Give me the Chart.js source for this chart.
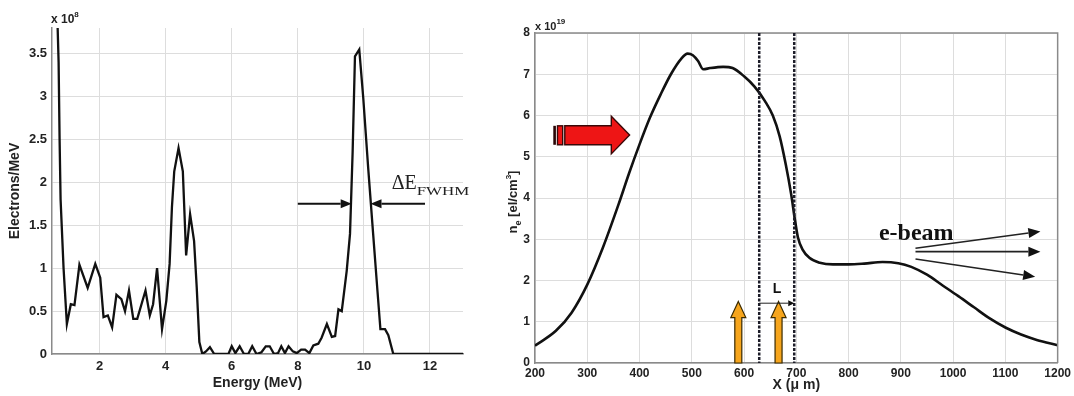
<!DOCTYPE html>
<html>
<head>
<meta charset="utf-8">
<script src="https://cdn.jsdelivr.net/npm/chart.js@4.4.1/dist/chart.umd.min.js"></script>
<style>
  html, body { margin: 0; padding: 0; background: #fff; }
  #wrap { position: relative; width: 1074px; height: 396px; overflow: hidden; }
  #left { position: absolute; left: 0; top: 0; }
  #right { position: absolute; left: 490px; top: 0; }
</style>
</head>
<body>
<div id="wrap">
  <canvas id="left" width="470" height="396"></canvas>
  <canvas id="right" width="584" height="396"></canvas>
</div>
<script>
// ===== left panel: electron spectrum (units of 1e8 electrons/MeV) =====
const energyMeV = [0.72, 0.76, 0.79, 0.82, 0.91, 1.01, 1.13, 1.24, 1.39, 1.64, 1.87, 2.02, 2.12, 2.25, 2.38,
  2.51, 2.66, 2.77, 2.89, 3.02, 3.14, 3.39, 3.52, 3.62, 3.74, 3.89, 4.02, 4.12, 4.19, 4.26, 4.39, 4.52,
  4.62, 4.74, 4.86, 4.94, 5.02, 5.11, 5.22, 5.34, 5.47, 5.90, 6.00, 6.11, 6.24, 6.37, 6.50, 6.62, 6.75,
  6.90, 7.03, 7.15, 7.28, 7.40, 7.50, 7.61, 7.72, 7.85, 7.97, 8.10, 8.22, 8.35, 8.47, 8.62, 8.72, 8.88,
  9.03, 9.13, 9.23, 9.33, 9.48, 9.58, 9.66, 9.73, 9.86, 9.98, 10.13, 10.28, 10.41, 10.50, 10.64, 10.74,
  10.89, 13.0];
const electronsPerMeV = [3.95, 3.40, 2.50, 1.80, 1.00, 0.35, 0.58, 0.57, 1.04, 0.77, 1.05, 0.89, 0.43, 0.45, 0.31,
  0.69, 0.64, 0.50, 0.74, 0.41, 0.41, 0.74, 0.45, 0.58, 1.00, 0.29, 0.62, 1.05, 1.71, 2.13, 2.40, 2.13,
  1.15, 1.63, 1.32, 0.78, 0.14, 0.00, 0.03, 0.08, 0.00, 0.00, 0.09, 0.01, 0.09, 0.00, 0.00, 0.09, 0.00,
  0.02, 0.09, 0.09, 0.00, 0.01, 0.09, 0.01, 0.09, 0.03, 0.01, 0.05, 0.05, 0.01, 0.10, 0.12, 0.19, 0.35,
  0.20, 0.21, 0.52, 0.50, 0.97, 1.40, 2.36, 3.47, 3.55, 2.99, 2.17, 1.40, 0.74, 0.29, 0.29, 0.22,
  0.00, 0.00];
const energyTicks = [2, 4, 6, 8, 10, 12];
const electronTicks = [0, 0.5, 1, 1.5, 2, 2.5, 3, 3.5];
// FWHM markers: [fromE, toE, level]
const fwhmArrows = [[8.0, 9.63, 1.75], [11.85, 10.2, 1.75]];
const fwhmLabel = [10.84, 1.92];

// ===== right panel: density profile (units of 1e19 el/cm^3) =====
const positionUm = [200, 240, 270, 300, 330, 360, 380, 400, 420, 440, 460, 480, 492, 502, 512, 522, 535,
  560, 578, 600, 620, 640, 655, 668, 680, 690, 697, 703, 712, 725, 745, 770, 800, 830, 865, 895, 920,
  950, 980, 1010, 1040, 1070, 1100, 1130, 1160, 1200];
const densityE19 = [0.42, 0.78, 1.22, 1.90, 2.80, 3.85, 4.60, 5.30, 5.95, 6.50, 7.00, 7.38, 7.50, 7.46, 7.32,
  7.12, 7.15, 7.18, 7.15, 6.95, 6.70, 6.35, 6.00, 5.50, 4.80, 4.10, 3.50, 3.05, 2.75, 2.55, 2.43, 2.39,
  2.39, 2.41, 2.45, 2.42, 2.33, 2.14, 1.88, 1.62, 1.35, 1.08, 0.86, 0.69, 0.56, 0.43];
const positionTicks = [200, 300, 400, 500, 600, 700, 800, 900, 1000, 1100, 1200];
const densityTicks = [0, 1, 2, 3, 4, 5, 6, 7, 8];
const markerLines = [629, 696];
const pumpArrows = [589, 666];
const pumpTop = 1.49;
const lengthMark = [629, 696, 1.45];
const lengthLabel = [663, 1.70];
const beamArrows = [[928, 2.78, 1167, 3.19], [928, 2.70, 1167, 2.70], [928, 2.52, 1157, 2.09]];
const beamLabel = [858, 2.99];
// laser block arrow outline [x, y]
const laserArrow = [[257, 5.75], [346, 5.75], [346, 5.98], [381, 5.53], [346, 5.07], [346, 5.29], [257, 5.29]];
const laserStripes = [[235, 240], [243, 253]];
const laserBand = [5.29, 5.75];

// ==================== HELPERS ====================
const SANS = '"Liberation Sans", Arial, sans-serif';
const SERIF = '"Liberation Serif", "Times New Roman", serif';

function richText(ctx, x, y, parts, align) {
  let w = 0;
  parts.forEach(p => { ctx.font = p[1]; w += ctx.measureText(p[0]).width; });
  let cx = align === 'center' ? x - w / 2 : x;
  parts.forEach(p => {
    ctx.font = p[1];
    ctx.fillText(p[0], cx, y + (p[2] || 0));
    cx += ctx.measureText(p[0]).width;
  });
}

function arrow(ctx, x0, y0, x1, y1, headLen, headHalf, width) {
  const a = Math.atan2(y1 - y0, x1 - x0);
  const bx = x1 - headLen * Math.cos(a), by = y1 - headLen * Math.sin(a);
  ctx.lineWidth = width;
  ctx.beginPath(); ctx.moveTo(x0, y0); ctx.lineTo(bx, by); ctx.stroke();
  ctx.beginPath();
  ctx.moveTo(x1, y1);
  ctx.lineTo(bx + headHalf * Math.sin(a), by - headHalf * Math.cos(a));
  ctx.lineTo(bx - headHalf * Math.sin(a), by + headHalf * Math.cos(a));
  ctx.closePath(); ctx.fill();
}

function axisCfg(ticksArr, min, max, fit, font, pad) {
  return {
    type: 'linear', min: min, max: max,
    afterBuildTicks: s => { s.ticks = ticksArr.map(v => ({ value: v })); },
    afterFit: fit,
    grid: { color: '#dddddd', drawTicks: false, lineWidth: 1 },
    border: { color: '#8a8a8a', width: 1.5 },
    ticks: { font: font, color: '#222', padding: pad, maxRotation: 0, autoSkip: false,
      callback: v => String(v) }
  };
}

// ==================== LEFT CHART ====================
const leftNotes = {
  id: 'leftNotes',
  afterDatasetsDraw(chart) {
    const ctx = chart.ctx, sx = chart.scales.x, sy = chart.scales.y;
    ctx.save();
    ctx.fillStyle = '#222'; ctx.strokeStyle = '#111';
    ctx.textBaseline = 'alphabetic'; ctx.textAlign = 'left';
    richText(ctx, chart.chartArea.left - 1, 23, [['x 10', 'bold 12px ' + SANS], ['8', 'bold 8px ' + SANS, -6]]);

    ctx.fillStyle = '#111';
    fwhmArrows.forEach(a => {
      arrow(ctx, sx.getPixelForValue(a[0]), sy.getPixelForValue(a[2]),
        sx.getPixelForValue(a[1]), sy.getPixelForValue(a[2]), 11, 4.5, 2);
    });

    const lx = sx.getPixelForValue(fwhmLabel[0]), ly = sy.getPixelForValue(fwhmLabel[1]);
    ctx.fillStyle = '#222';
    ctx.font = '20px ' + SERIF;
    ctx.fillText('\u0394E', lx, ly);
    const w = ctx.measureText('\u0394E').width;
    ctx.save();
    ctx.translate(lx + w, ly + 6);
    ctx.scale(1.3, 1);
    ctx.font = '13px ' + SERIF;
    ctx.fillText('FWHM', 0, 0);
    ctx.restore();
    ctx.restore();
  }
};

new Chart(document.getElementById('left'), {
  type: 'line',
  data: {
    datasets: [{
      data: energyMeV.map((x, i) => ({ x: x, y: electronsPerMeV[i] })),
      borderColor: '#111', borderWidth: 2.3, pointRadius: 0, tension: 0
    }]
  },
  options: {
    responsive: false, animation: false, devicePixelRatio: 1,
    layout: { padding: { top: 28, right: 7, left: 0, bottom: 0 } },
    plugins: { legend: { display: false }, tooltip: { enabled: false } },
    scales: {
      x: Object.assign(axisCfg(energyTicks, 0.56, 13, s => { s.height = 42; }, { family: SANS, size: 13, weight: 'bold' }, 5), {
        title: { display: true, text: 'Energy (MeV)', color: '#222',
          font: { family: SANS, size: 14, weight: 'bold' }, padding: { top: 0, bottom: 4 } }
      }),
      y: Object.assign(axisCfg(electronTicks, 0, 3.8, s => { s.width = 52; }, { family: SANS, size: 13, weight: 'bold' }, 5), {
        title: { display: true, text: 'Electrons/MeV', color: '#222',
          font: { family: SANS, size: 14, weight: 'bold' }, padding: { top: 7, bottom: 0 } }
      })
    }
  },
  plugins: [leftNotes]
});

// ==================== RIGHT CHART ====================
const rightNotes = {
  id: 'rightNotes',
  afterDatasetsDraw(chart) {
    const ctx = chart.ctx, sx = chart.scales.x, sy = chart.scales.y, area = chart.chartArea;
    const px = v => sx.getPixelForValue(v), py = v => sy.getPixelForValue(v);
    ctx.save();

    // box top / right
    ctx.strokeStyle = '#8a8a8a'; ctx.lineWidth = 1.5;
    ctx.beginPath();
    ctx.moveTo(area.left, area.top); ctx.lineTo(area.right, area.top); ctx.lineTo(area.right, area.bottom);
    ctx.stroke();

    // exponent + y title
    ctx.fillStyle = '#222'; ctx.textAlign = 'left'; ctx.textBaseline = 'alphabetic';
    richText(ctx, area.left, 30, [['x 10', 'bold 11px ' + SANS], ['19', 'bold 8px ' + SANS, -6]]);
    ctx.save();
    ctx.translate(27, (area.top + area.bottom) / 2 + 4);
    ctx.rotate(-Math.PI / 2);
    richText(ctx, 0, 0, [['n', 'bold 13px ' + SANS], ['e', 'bold 9px ' + SANS, 4], [' [el/cm', 'bold 13px ' + SANS],
      ['3', 'bold 8px ' + SANS, -6], [']', 'bold 13px ' + SANS]], 'center');
    ctx.restore();

    // dashed boundaries
    ctx.strokeStyle = '#1c1c28'; ctx.lineWidth = 2.5; ctx.setLineDash([3, 1.5]);
    markerLines.forEach(m => {
      ctx.beginPath(); ctx.moveTo(px(m), area.top); ctx.lineTo(px(m), area.bottom); ctx.stroke();
    });
    ctx.setLineDash([]);

    // laser block arrow
    ctx.lineWidth = 1.4; ctx.strokeStyle = '#3a0808';
    ctx.fillStyle = '#2a0606';
    ctx.fillRect(px(laserStripes[0][0]), py(laserBand[1]), px(laserStripes[0][1]) - px(laserStripes[0][0]), py(laserBand[0]) - py(laserBand[1]));
    ctx.fillStyle = '#ee1515';
    ctx.fillRect(px(laserStripes[1][0]), py(laserBand[1]), px(laserStripes[1][1]) - px(laserStripes[1][0]), py(laserBand[0]) - py(laserBand[1]));
    ctx.strokeRect(px(laserStripes[1][0]), py(laserBand[1]), px(laserStripes[1][1]) - px(laserStripes[1][0]), py(laserBand[0]) - py(laserBand[1]));
    ctx.beginPath();
    laserArrow.forEach((p, i) => { if (i === 0) ctx.moveTo(px(p[0]), py(p[1])); else ctx.lineTo(px(p[0]), py(p[1])); });
    ctx.closePath(); ctx.fill(); ctx.stroke();

    // pump arrows (orange)
    ctx.fillStyle = '#f6a51c'; ctx.strokeStyle = '#3a2a00'; ctx.lineWidth = 1.2;
    pumpArrows.forEach(a => {
      const cx = px(a), top = py(pumpTop), bot = py(0);
      ctx.beginPath();
      ctx.moveTo(cx, top);
      ctx.lineTo(cx + 7.5, top + 16); ctx.lineTo(cx + 3.5, top + 16); ctx.lineTo(cx + 3.5, bot);
      ctx.lineTo(cx - 3.5, bot); ctx.lineTo(cx - 3.5, top + 16); ctx.lineTo(cx - 7.5, top + 16);
      ctx.closePath(); ctx.fill(); ctx.stroke();
    });

    // L marker
    ctx.strokeStyle = '#222'; ctx.fillStyle = '#111';
    arrow(ctx, px(lengthMark[0]), py(lengthMark[2]), px(lengthMark[1]), py(lengthMark[2]), 6, 3, 1);
    ctx.font = 'bold 14px ' + SANS; ctx.textAlign = 'center';
    ctx.fillText('L', px(lengthLabel[0]), py(lengthLabel[1]));

    // e-beam
    ctx.strokeStyle = '#222'; ctx.fillStyle = '#111';
    beamArrows.forEach(b => arrow(ctx, px(b[0]), py(b[1]), px(b[2]), py(b[3]), 12, 5, 1.6));
    ctx.textAlign = 'left'; ctx.fillStyle = '#111';
    ctx.font = 'bold 24px ' + SERIF;
    ctx.fillText('e-beam', px(beamLabel[0]), py(beamLabel[1]));
    ctx.restore();
  }
};

new Chart(document.getElementById('right'), {
  type: 'line',
  data: {
    datasets: [{
      data: positionUm.map((x, i) => ({ x: x, y: densityE19[i] })),
      borderColor: '#111', borderWidth: 2.6, pointRadius: 0, cubicInterpolationMode: 'monotone'
    }]
  },
  options: {
    responsive: false, animation: false, devicePixelRatio: 1,
    layout: { padding: { top: 33, right: 15, left: 0, bottom: 0 } },
    plugins: { legend: { display: false }, tooltip: { enabled: false } },
    scales: {
      x: Object.assign(axisCfg(positionTicks, 200, 1200, s => { s.height = 33; }, { family: SANS, size: 12, weight: 'bold' }, 3), {
        title: { display: true, text: 'X (\u03bc m)', color: '#222',
          font: { family: SANS, size: 14, weight: 'bold' }, padding: { top: 0, bottom: 2 } }
      }),
      y: axisCfg(densityTicks, 0, 8, s => { s.width = 45; }, { family: SANS, size: 12, weight: 'bold' }, 5)
    }
  },
  plugins: [rightNotes]
});
</script>
</body>
</html>
